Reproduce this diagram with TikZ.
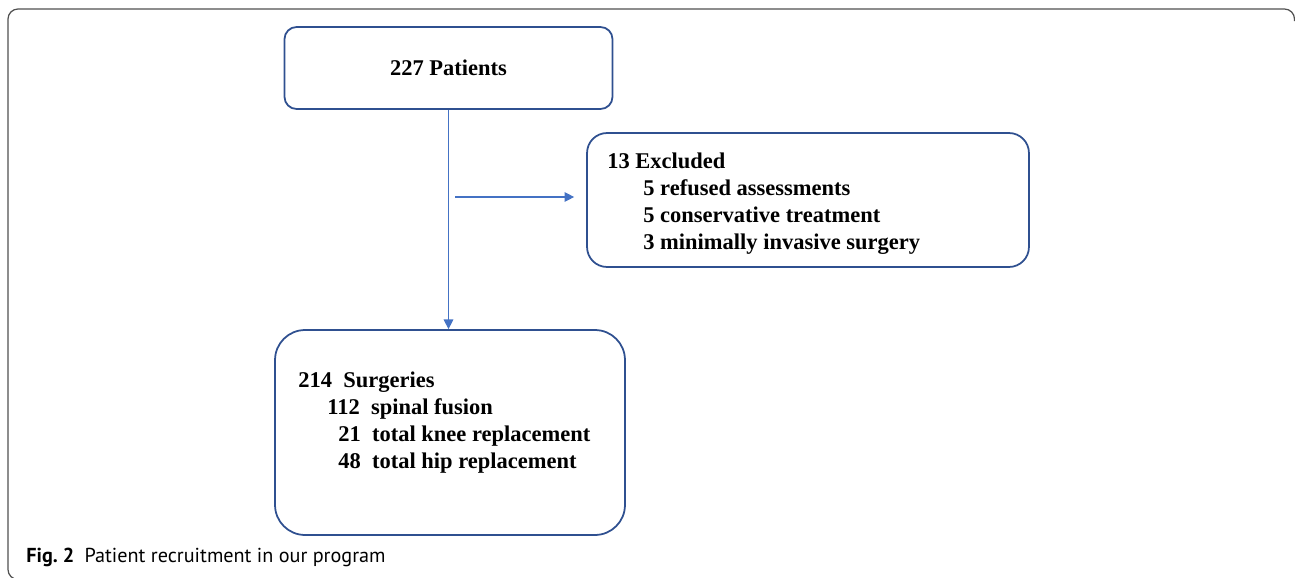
\documentclass[tikz,border=0pt]{standalone}
\usepackage{fontspec}
\setmainfont{Liberation Serif}
\newfontfamily\capfont{PT Sans}
\usetikzlibrary{arrows.meta,positioning}
\definecolor{boxblue}{HTML}{2F5090}
\definecolor{linkblue}{HTML}{4472C4}
\definecolor{framegray}{HTML}{505050}
\tikzset{%
	flowbox/.style  = {draw=boxblue, line width=1pt, fill=white},
	boxtext/.style  = {font=\fontsize{12.8}{15.4}\selectfont\bfseries, align=left, inner sep=0pt},
	arrow/.style    = {draw=linkblue, line width=0.6pt, -{Triangle[length=5.5pt,width=5.5pt]}},
	frame/.style    = {draw=framegray, line width=0.7pt, rounded corners=0.2cm},
}

\begin{document}
\begin{tikzpicture}[x=0.02cm,y=-0.02cm]
		\useasboundingbox (0,0) rectangle (1295,578);
		% outer frame
		\draw[frame] (22,579.5) -- (8,579.5) -- (8,9) -- (1294.5,9) -- (1294.5,21);
		
		% boxes
		\node[flowbox, rounded corners=0.24cm, minimum width=6.56cm, minimum height=1.64cm, boxtext, align=center] (pat) at (448.5,68) {227 Patients};
		\node[flowbox, rounded corners=0.4cm, minimum width=8.84cm, minimum height=2.68cm] (exc) at (808,200) {};
		\node[flowbox, rounded corners=0.6cm, minimum width=7cm, minimum height=4.1cm] (surg) at (450,432.5) {};
		
		\node[boxtext, anchor=north west] (exclist) at (607,152.7) {13 Excluded\\ \hspace*{0.72cm}5 refused assessments\\ \hspace*{0.72cm}5 conservative treatment\\ \hspace*{0.72cm}3 minimally invasive surgery};
		\node[boxtext, anchor=north west] (surglist) at (298,371.8) {214\enspace Surgeries\\ \hspace*{0.58cm}112\enspace spinal fusion\\ \hspace*{0.8cm}21\enspace total knee replacement\\ \hspace*{0.8cm}48\enspace total hip replacement};
		
		% connectors
		\draw[arrow] (pat.south) -- (pat.south |- surg.north);
		\coordinate (branch) at (455,197);
		\draw[arrow, shorten >=0.24cm] (branch) -- (branch -| exc.west);
		
		% caption
		\node[font=\capfont\fontsize{11.5}{13}\selectfont, anchor=base west, inner sep=0pt] (caption) at (26,562) {\textbf{Fig.~2}\enspace Patient recruitment in our program};
\end{tikzpicture}
\end{document}
